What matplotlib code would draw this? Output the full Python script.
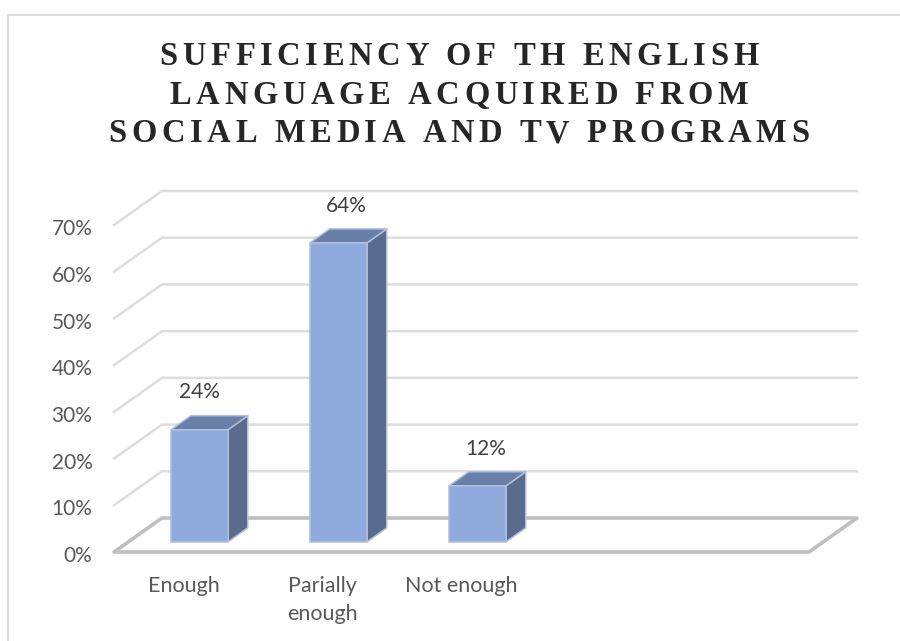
import matplotlib
matplotlib.use("Agg")
import matplotlib.pyplot as plt
from matplotlib.font_manager import FontProperties, findfont, get_font
from matplotlib.ft2font import LoadFlags
from matplotlib.patches import Polygon
from matplotlib.text import Text
from matplotlib.transforms import IdentityTransform, ScaledTranslation

categories = ["Enough", "Parially\nenough", "Not enough", "", ""]
shares = [24, 64, 12]
y_ticks = [0, 10, 20, 30, 40, 50, 60, 70]
title_lines = ["SUFFICIENCY OF TH ENGLISH", "LANGUAGE ACQUIRED FROM", "SOCIAL MEDIA AND TV PROGRAMS"]

W, H = 900, 641
FRONT_TINT = "#8FAADC"
TOP_TINT = "#6A7FA8"
SIDE_TINT = "#5B6B8D"
EDGE_TINT = "#AFC0DC"
GRID_TINT = "#DDDDDD"
FLOOR_TINT = "#BFBFBF"
TEXT_TINT = "#595959"
VALUE_TINT = "#404040"
FONT = "Lato"


class TrackedText(Text):
    """Centred single-line text drawn with extra spacing between letters."""

    def __init__(self, x, y, text, tracking=0.0, **kwargs):
        super().__init__(x, y, text, **kwargs)
        self.tracking = tracking

    def _advances(self):
        prop = self.get_fontproperties()
        font = get_font(findfont(prop))
        font.set_size(prop.get_size_in_points(), self.figure.dpi)
        return [font.load_char(ord(c), flags=LoadFlags.NO_HINTING).linearHoriAdvance / 65536
                for c in self.get_text()]

    def draw(self, renderer):
        adv = self._advances()
        total = sum(adv) + self.tracking * (len(adv) - 1)
        px, py = self.get_transform().transform(self.get_position())
        pen = px - total / 2
        for ch, a in zip(self.get_text(), adv):
            glyph = Text(pen, py, ch, transform=IdentityTransform(), ha="left", va="baseline",
                         fontproperties=self.get_fontproperties(), color=self.get_color())
            glyph.set_figure(self.figure)
            glyph.draw(renderer)
            pen += a + self.tracking


fig = plt.figure(figsize=(W / 100, H / 100), dpi=100, facecolor="white")

# chart frame: left and top edges only
fig.add_artist(plt.Line2D([8 / W, 8 / W, 1], [0, 1 - 14.5 / H, 1 - 14.5 / H],
                          color="#DDDDDD", lw=1.5))

# axes rectangle is the front plane of the oblique box
left, right, y0, y70 = 114, 809, 552, 225
ax = fig.add_axes([left / W, 1 - y0 / H, (right - left) / W, (y0 - y70) / H])
ax.set_xlim(-0.5, 4.5)
ax.set_ylim(0, 70)
ax.patch.set_visible(False)
for s in ax.spines.values():
    s.set_visible(False)

# oblique depth of the box, in data units
DX = 48 / 139
DY = 34 / 4.67


def project(x, v, d):
    return x + DX * d, v + DY * d


# back wall gridlines with their slanted returns
for v in y_ticks[1:]:
    xs, ys = zip(project(-0.5, v, 0), project(-0.5, v, 1), project(4.5, v, 1))
    ax.plot(xs, ys, color=GRID_TINT, lw=1.8, clip_on=False, zorder=1,
            solid_joinstyle="miter")

# floor outline
floor = [project(-0.5, 0, 0), project(-0.5, 0, 1), project(4.5, 0, 1), project(4.5, 0, 0)]
ax.add_patch(Polygon(floor, closed=True, fill=False, ec=FLOOR_TINT, lw=2.6,
                     clip_on=False, zorder=2, joinstyle="round"))

# bars as three visible faces, with value labels above them
BAR_W = 0.41
BAR_SHIFT = 0.012
D0, D1 = 0.30, 0.71
LABEL_SHIFT = [(0, 40), (7.5, 39), (8.5, 39)]
for i, v in enumerate(shares):
    a, b = i + BAR_SHIFT - BAR_W / 2, i + BAR_SHIFT + BAR_W / 2
    front = [project(a, 0, D0), project(b, 0, D0), project(b, v, D0), project(a, v, D0)]
    side = [project(b, 0, D0), project(b, 0, D1), project(b, v, D1), project(b, v, D0)]
    top = [project(a, v, D0), project(b, v, D0), project(b, v, D1), project(a, v, D1)]
    for pts, col in ((side, SIDE_TINT), (top, TOP_TINT), (front, FRONT_TINT)):
        ax.add_patch(Polygon(pts, closed=True, fc=col, ec=EDGE_TINT, lw=1.1,
                             clip_on=False, zorder=3, joinstyle="round"))
    dx, dy = LABEL_SHIFT[i]
    ax.annotate(f"{v}%", xy=project(i + BAR_SHIFT, v, D0), xytext=(dx * 0.72, (dy - 2.5) * 0.72),
                textcoords="offset points", ha="center", va="center", fontsize=15,
                family=FONT, color=VALUE_TINT, annotation_clip=False, zorder=4)

ax.set_yticks(y_ticks, [f"{v}%" for v in y_ticks])
ax.set_xticks(range(len(categories)), categories)
ax.tick_params(axis="both", length=0, labelcolor=TEXT_TINT)
ax.tick_params(axis="y", pad=15.5, labelsize=15)
ax.tick_params(axis="x", pad=17, labelsize=15.5)
nudge = ScaledTranslation(0, -1.5 / 72, fig.dpi_scale_trans)
for lab in ax.get_yticklabels():
    lab.set_family(FONT)
    lab.set_transform(lab.get_transform() + nudge)
for lab in ax.get_xticklabels():
    lab.set_family(FONT)
    lab.set_linespacing(1.55)

# letter-spaced title, one baseline per line
title_font = FontProperties(family="Liberation Serif", weight="bold", size=23.5)
for line, base in zip(title_lines, [65, 104, 142.5]):
    fig.add_artist(TrackedText(459 / W, 1 - base / H, line, tracking=4.6,
                               transform=fig.transFigure, fontproperties=title_font,
                               color="#262626", ha="center", va="baseline"))

fig.savefig("out.png", dpi=100)
